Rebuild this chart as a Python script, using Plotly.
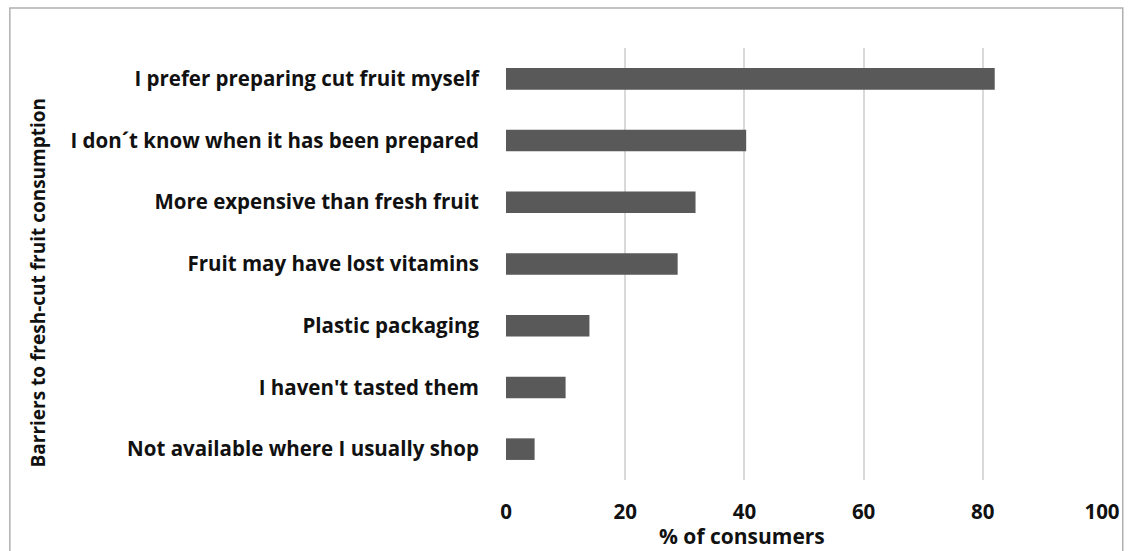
import plotly.graph_objects as go

categories = [
    "I prefer preparing cut fruit myself",
    "I don´t know when it has been prepared",
    "More expensive than fresh fruit",
    "Fruit may have lost vitamins",
    "Plastic packaging",
    "I haven't tasted them",
    "Not available where I usually shop",
]
values = [82, 40.3, 31.8, 28.8, 14, 10, 4.8]
x_ticks = [0, 20, 40, 60, 80, 100]

W, H = 1132, 551
L, R, T, B = 506, 23, 48, 71
pw, ph = W - L - R, H - T - B

def px_x(px):
    return (px - L) / pw

def px_y(py):
    return (H - B - py) / ph

FONT = "Open Sans"
TXT = "#111111"

fig = go.Figure(go.Bar(
    x=values,
    y=categories,
    orientation="h",
    marker=dict(color="#595959", line=dict(width=0)),
    width=0.35,
))

fig.update_layout(
    width=W, height=H,
    margin=dict(l=L, r=R, t=T, b=B),
    paper_bgcolor="white",
    plot_bgcolor="white",
    showlegend=False,
    font=dict(family=FONT, size=18, color=TXT),
    xaxis=dict(
        range=[0, 100],
        tickvals=x_ticks,
        ticktext=[str(v) for v in x_ticks],
        showgrid=True,
        gridcolor="#d9d9d9",
        gridwidth=1.5,
        zeroline=False,
        showline=False,
        ticks="",
        ticklabelstandoff=17,
        tickfont=dict(family=FONT, size=20.5, color=TXT, weight="bold"),
        fixedrange=True,
    ),
    yaxis=dict(
        categoryorder="array",
        categoryarray=categories[::-1],
        range=[-0.5, len(categories) - 0.5],
        showgrid=False,
        zeroline=False,
        showline=False,
        ticks="",
        ticklabelstandoff=26,
        tickfont=dict(family=FONT, size=20.5, color=TXT, weight="bold"),
        fixedrange=True,
    ),
    annotations=[
        dict(
            text="Barriers to fresh-cut fruit consumption",
            xref="paper", yref="paper",
            x=px_x(33), y=px_y(282),
            textangle=-90, showarrow=False,
            font=dict(family=FONT, size=19, color=TXT, weight="bold"),
            xanchor="center", yanchor="middle",
        ),
        dict(
            text="% of consumers",
            xref="paper", yref="paper",
            x=px_x(745), y=px_y(536),
            showarrow=False,
            font=dict(family=FONT, size=21, color=TXT, weight="bold"),
            xanchor="center", yanchor="middle",
        ),
    ],
    shapes=[
        dict(
            type="rect", xref="paper", yref="paper",
            x0=px_x(4), x1=px_x(1130), y0=px_y(560), y1=px_y(8),
            line=dict(color="#b0b0b0", width=1.5),
            fillcolor="rgba(0,0,0,0)",
            layer="below",
        ),
    ],
)

fig.write_html("out.html")
